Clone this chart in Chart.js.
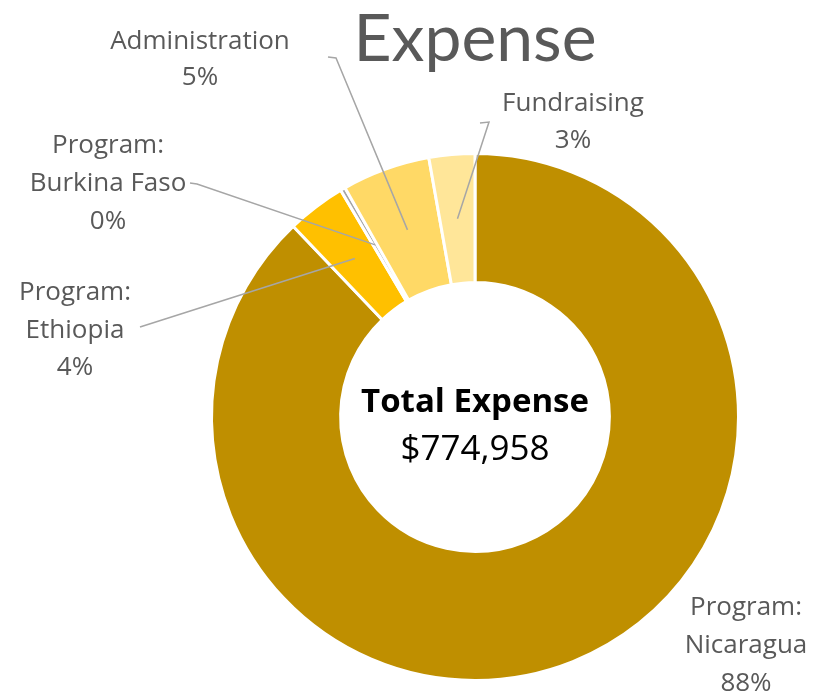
<!DOCTYPE html>
<html>
<head>
<meta charset="utf-8">
<script src="https://cdn.jsdelivr.net/npm/chart.js@4.4.1/dist/chart.umd.min.js"></script>
<style>
  html, body { margin: 0; padding: 0; background: #ffffff; }
  #wrap { width: 815px; height: 696px; position: relative; }
</style>
</head>
<body>
<div id="wrap"><canvas id="expense-chart"></canvas></div>
<script>
// data
const categories = ['Program: Nicaragua', 'Program: Ethiopia', 'Program: Burkina Faso', 'Administration', 'Fundraising'];
const expenseValues = [681000, 28000, 2300, 41900, 21758];
const sliceColors = ['#BF8F00', '#FFC000', '#A5A5A5', '#FFD966', '#FFE699'];
const titleText = 'Expense';
const centerLines = ['Total Expense', '$774,958'];

const FONT = '"Open Sans", Lato, sans-serif';
const TITLE_FONT = 'Lato, "Open Sans", sans-serif';
const LABEL_COLOR = '#595959';
const LEADER_COLOR = '#A6A6A6';

// where each label sits and where its leader line starts (label layout only)
const LABEL_LAYOUT = [
    { x: 746, y: 608, step: 38, leader: null },
    { x: 75, y: 293, step: 37.5, leader: [[140, 327]] },
    { x: 108, y: 146, step: 38, leader: [[190, 183], [197, 184]] },
    { x: 200, y: 42, step: 36, leader: [[328, 57], [336, 58]] },
    { x: 573, y: 104, step: 37, leader: [[480, 123], [489, 122]] }
];

function labelLines(name, pct) {
    const parts = name.split(': ');
    const lines = parts.length > 1 ? [parts[0] + ':', parts[1]] : [name];
    lines.push(pct + '%');
    return lines;
}

const decorPlugin = {
    id: 'decor',
    afterDatasetsDraw(chart) {
        const ctx = chart.ctx;
        const meta = chart.getDatasetMeta(0);
        const data = chart.data.datasets[0].data;
        const total = data.reduce((a, b) => a + b, 0);
        const first = meta.data[0];

        ctx.save();
        // title
        ctx.fillStyle = LABEL_COLOR;
        ctx.textAlign = 'center';
        ctx.textBaseline = 'middle';
        ctx.font = '400 66px ' + TITLE_FONT;
        ctx.fillText(titleText, first.x, 40);

        // center text
        ctx.fillStyle = '#000000';
        ctx.font = '700 33px ' + FONT;
        ctx.fillText(centerLines[0], first.x, first.y - 14);
        ctx.font = '400 35px ' + FONT;
        ctx.fillText(centerLines[1], first.x, first.y + 33);

        // labels + leader lines
        meta.data.forEach((arc, i) => {
            const lay = LABEL_LAYOUT[i];
            const pct = Math.round(data[i] / total * 100);
            const lines = labelLines(chart.data.labels[i], pct);
            ctx.fillStyle = LABEL_COLOR;
            ctx.font = '400 26px ' + FONT;
            lines.forEach((t, k) => ctx.fillText(t, lay.x, lay.y + k * lay.step));

            if (lay.leader) {
                const end = arc.getCenterPoint();
                ctx.strokeStyle = LEADER_COLOR;
                ctx.lineWidth = 1.5;
                ctx.beginPath();
                ctx.moveTo(lay.leader[0][0], lay.leader[0][1]);
                lay.leader.slice(1).forEach(p => ctx.lineTo(p[0], p[1]));
                ctx.lineTo(end.x, end.y);
                ctx.stroke();
            }
        });
        ctx.restore();
    }
};

new Chart(document.getElementById('expense-chart'), {
    type: 'doughnut',
    data: {
        labels: categories,
        datasets: [{
            data: expenseValues,
            backgroundColor: sliceColors,
            borderColor: '#FFFFFF',
            borderWidth: 3
        }]
    },
    options: {
        responsive: true,
        maintainAspectRatio: false,
        animation: false,
        cutout: '51%',
        layout: {
            padding: { top: 152, bottom: 14, left: 210, right: 75 }
        },
        plugins: {
            legend: { display: false },
            tooltip: { enabled: false }
        }
    },
    plugins: [decorPlugin]
});
</script>
</body>
</html>
